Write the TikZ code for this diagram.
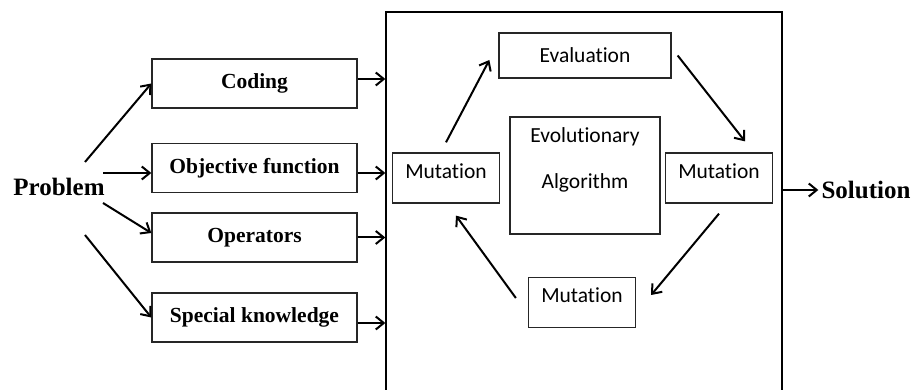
\documentclass[tikz,border=0pt]{standalone}
\usepackage{fontspec}
\setmainfont{Liberation Serif}
\newfontfamily\calfont[Ligatures=NoCommon]{Carlito}
\usetikzlibrary{arrows.meta}

\begin{document}
\begin{tikzpicture}[x=1pt,y=1pt,>={Straight Barb[length=8pt,width=13pt]},
    arr/.style={->,line width=2pt},
    inbox/.style={draw=black!85,line width=1.3pt,minimum width=205pt,minimum height=49pt,inner sep=0pt,
      font=\fontsize{21.5}{26}\selectfont\bfseries},
    cycbox/.style={draw=black!85,line width=1.3pt,inner sep=0pt,font=\calfont\fontsize{21.5}{26}\selectfont},
    mut/.style={cycbox,minimum width=107pt,minimum height=50pt,text height=15pt,text depth=14pt},
    big/.style={font=\fontsize{25}{30}\selectfont\bfseries,inner sep=3pt}]
  \useasboundingbox (0,0) rectangle (914,390);
  % left column
  \node[big] (problem) at (59,203) {Problem};
  \node[inbox] (coding) at (254.5,306.5) {Coding};
  \node[inbox] (objective) at (254.5,222) {Objective function};
  \node[inbox] (operators) at (254.5,152.5) {Operators};
  \node[inbox] (special) at (254.5,72.5) {Special knowledge};
  \draw[arr] ([shift={(26pt,25pt)}]problem.center) -- (coding.west);
  \draw[arr] ([shift={(44pt,14pt)}]problem.center) -- ([yshift=-5pt]objective.west);
  \draw[arr] ([shift={(44pt,-16pt)}]problem.center) -- ([yshift=4.5pt]operators.west);
  \draw[arr] ([shift={(26pt,-48pt)}]problem.center) -- (special.west);
  % the algorithm box
  \node[draw,line width=1.3pt,minimum width=396pt,minimum height=388pt,inner sep=0pt] (ea) at (584,184) {};
  \draw[arr] ([yshift=4.5pt]coding.east) -- ([yshift=4.5pt]coding.east -| ea.west);
  \draw[arr] ([yshift=-5pt]objective.east) -- ([yshift=-5pt]objective.east -| ea.west);
  \draw[arr] (operators.east) -- (operators.east -| ea.west);
  \draw[arr] ([yshift=-5.5pt]special.east) -- ([yshift=-5.5pt]special.east -| ea.west);
  \node[big] (solution) at (866,200) {Solution};
  \draw[arr] (solution.west -| ea.east) -- (solution.west);
  % cycle
  \node[cycbox,minimum width=172pt,minimum height=45pt] (evaluation) at (585,334.5) {Evaluation};
  \node[cycbox,minimum width=150pt,minimum height=117pt] (evo) at (585,214.5) {};
  \node[align=center,inner sep=0pt,font=\calfont\fontsize{21.5}{46}\selectfont] (evotext) at (585,230) {Evolutionary\\Algorithm};
  \node[mut] (leftmut) at (446,212) {Mutation};
  \node[mut] (rightmut) at (719,212) {Mutation};
  \node[mut] (bottommut) at (582,87.5) {Mutation};
  \draw[arr] ([yshift=10pt]leftmut.north) -- ([shift={(-9pt,-4.5pt)}]evaluation.west);
  \draw[arr] ([xshift=6pt]evaluation.east) -- ([shift={(26pt,11pt)}]rightmut.north);
  \draw[arr] ([yshift=-10pt]rightmut.south) -- ([shift={(15pt,7.5pt)}]bottommut.east);
  \draw[arr] ([shift={(-12pt,4.5pt)}]bottommut.west) -- ([shift={(10pt,-12pt)}]leftmut.south);
\end{tikzpicture}
\end{document}
